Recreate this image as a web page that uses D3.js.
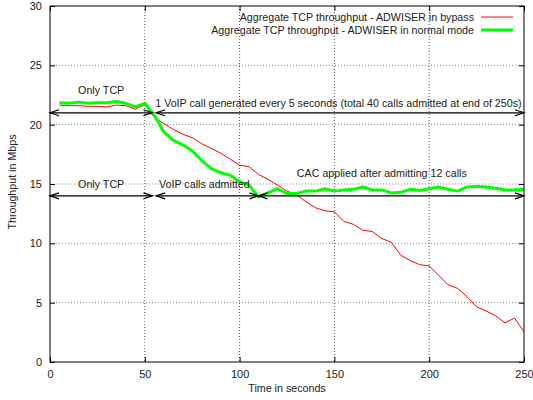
<!DOCTYPE html>
<html>
<head>
<meta charset="utf-8">
<script src="https://cdn.jsdelivr.net/npm/d3@7"></script>
<style>
  body { margin: 0; background: #fff; }
  svg text { font-family: "Liberation Sans", Arial, sans-serif; font-size: 10.7px; fill: #222; }
</style>
</head>
<body>
<svg width="533" height="400"></svg>
<script>
(function (d3) {
    'use strict';

    // time axis (seconds)
    const times = d3.range(5, 251, 5);

    const bypassValues = [
      21.65, 21.6, 21.6, 21.55, 21.55, 21.5, 21.65, 21.6, 21.3, 21.7,
      20.6, 20.1, 19.6, 19.2, 18.9, 18.4, 18.0, 17.6, 17.1, 16.6,
      16.45, 15.8, 15.4, 14.9, 14.4, 14.1, 13.5, 13.0, 12.75, 12.65,
      11.85, 11.6, 11.1, 11.0, 10.4, 10.1, 9.0, 8.55, 8.2, 8.1,
      7.3, 6.5, 6.2, 5.5, 4.65, 4.3, 3.9, 3.3, 3.7, 2.55
    ];

    const normalValues = [
      21.85, 21.8, 21.9, 21.8, 21.85, 21.85, 21.95, 21.8, 21.5, 21.8,
      20.8, 19.4, 18.7, 18.3, 17.8, 17.0, 16.3, 15.95, 15.75, 15.2,
      14.9, 13.9, 14.25, 14.6, 14.2, 14.2, 14.4, 14.4, 14.6, 14.4,
      14.5, 14.55, 14.75, 14.5, 14.5, 14.25, 14.3, 14.55, 14.45, 14.6,
      14.75, 14.55, 14.4, 14.75, 14.8, 14.75, 14.65, 14.5, 14.5, 14.55
    ];

    const seriesNames = [
      'Aggregate TCP throughput - ADWISER in bypass',
      'Aggregate TCP throughput - ADWISER in normal mode'
    ];

    const xTicks = [0, 50, 100, 150, 200, 250];
    const yTicks = [0, 5, 10, 15, 20, 25, 30];

    // arrows: [from, to, y]
    const arrows = [
      [0, 54, 21], [56, 250, 21],
      [0, 54, 14], [56, 110, 14], [110, 250, 14]
    ];

    // labels: [text, x, y, anchor]
    const labels = [
      ['Only TCP', 27, 22.9, 'middle'],
      ['1 VoIP call generated every 5 seconds (total 40 calls admitted at end of 250s)', 55.5, 21.8, 'start'],
      ['Only TCP', 27, 15.0, 'middle'],
      ['VoIP calls admitted', 57.5, 15.0, 'start'],
      ['CAC applied after admitting 12 calls', 175, 15.9, 'middle']
    ];

    const COLORS = {
      bypass: '#ff0000',
      normal: '#00ff00',
      grid: '#888'
    };

    const margin = { top: 6, right: 9, bottom: 38, left: 50 };
    const svg = d3.select('svg');
    const width = 533 - margin.left - margin.right;
    const height = 400 - margin.top - margin.bottom;

    const g = svg.append('g')
      .attr('transform', `translate(${margin.left},${margin.top})`);

    const x = d3.scaleLinear().domain([0, 250]).range([0, width]);
    const y = d3.scaleLinear().domain([0, 30]).range([height, 0]);

    // grid
    g.append('g')
      .selectAll('line')
      .data(xTicks.slice(1, -1))
      .enter()
      .append('line')
      .attr('x1', d => x(d)).attr('x2', d => x(d))
      .attr('y1', 0).attr('y2', height)
      .attr('stroke', '#555')
      .attr('stroke-width', 1)
      .attr('stroke-dasharray', '1,2');

    g.append('g')
      .selectAll('line')
      .data(yTicks.slice(1, -1))
      .enter()
      .append('line')
      .attr('x1', 0).attr('x2', width)
      .attr('y1', d => y(d)).attr('y2', d => y(d))
      .attr('stroke', COLORS.grid)
      .attr('stroke-width', 1)
      .attr('stroke-dasharray', '1,2');

    // axes (ticks inward, mirrored)
    const tickLen = 5;
    g.append('g')
      .attr('transform', `translate(0,${height})`)
      .call(d3.axisBottom(x).tickValues(xTicks).tickSize(-tickLen).tickPadding(8))
      .call(a => a.select('.domain').remove());
    g.append('g')
      .call(d3.axisTop(x).tickValues(xTicks).tickSize(-tickLen).tickFormat(''))
      .call(a => a.select('.domain').remove());
    g.append('g')
      .call(d3.axisLeft(y).tickValues(yTicks).tickSize(-tickLen).tickPadding(8))
      .call(a => a.select('.domain').remove());
    g.append('g')
      .attr('transform', `translate(${width},0)`)
      .call(d3.axisRight(y).tickValues(yTicks).tickSize(-tickLen).tickFormat(''))
      .call(a => a.select('.domain').remove());

    g.selectAll('.tick text')
      .style('font-size', '11px')
      .attr('fill', '#222');

    // data lines
    const line = vals => d3.line()
      .x((d, i) => x(times[i]))
      .y(d => y(d))(vals);

    g.append('path')
      .attr('d', line(bypassValues))
      .attr('fill', 'none')
      .attr('stroke', COLORS.bypass)
      .attr('stroke-width', 1);

    g.append('path')
      .attr('d', line(normalValues))
      .attr('fill', 'none')
      .attr('stroke', COLORS.normal)
      .attr('stroke-width', 3)
      .attr('stroke-linejoin', 'round');

    // arrows with heads on both ends
    const headLen = 9, headW = 3;
    const arrowG = g.append('g')
      .attr('stroke', '#000')
      .attr('stroke-width', 1.2)
      .attr('fill', 'none');
    arrows.forEach(([a, b, v]) => {
      const x1 = x(a), x2 = x(b), yy = y(v);
      arrowG.append('line')
        .attr('x1', x1).attr('x2', x2)
        .attr('y1', yy).attr('y2', yy);
      arrowG.append('path')
        .attr('d', `M${x1 + headLen},${yy - headW}L${x1},${yy}L${x1 + headLen},${yy + headW}`);
      arrowG.append('path')
        .attr('d', `M${x2 - headLen},${yy - headW}L${x2},${yy}L${x2 - headLen},${yy + headW}`);
    });

    // annotation labels
    g.selectAll('text.note')
      .data(labels)
      .enter()
      .append('text')
      .attr('class', 'note')
      .attr('x', d => x(d[1]))
      .attr('y', d => y(d[2]))
      .attr('dy', '0.35em')
      .attr('text-anchor', d => d[3])
      .text(d => d[0]);

    // border
    g.append('rect')
      .attr('width', width)
      .attr('height', height)
      .attr('fill', 'none')
      .attr('stroke', '#000')
      .attr('stroke-width', 1);

    // legend
    const legend = g.append('g');
    const legendColors = [COLORS.bypass, COLORS.normal];
    const legendWidths = [1, 3];
    seriesNames.forEach((name, i) => {
      const ly = 11 + i * 13;
      legend.append('text')
        .attr('x', 424)
        .attr('y', ly)
        .attr('dy', '0.35em')
        .attr('text-anchor', 'end')
        .text(name);
      legend.append('line')
        .attr('x1', 431).attr('x2', 463)
        .attr('y1', ly).attr('y2', ly)
        .attr('stroke', legendColors[i])
        .attr('stroke-width', legendWidths[i]);
    });

    // axis titles
    svg.append('text')
      .attr('x', margin.left + width / 2)
      .attr('y', 392)
      .attr('text-anchor', 'middle')
      .text('Time in seconds');

    svg.append('text')
      .attr('transform', 'translate(16,182) rotate(-90)')
      .attr('text-anchor', 'middle')
      .text('Throughput in Mbps');

}(d3));
</script>
</body>
</html>
